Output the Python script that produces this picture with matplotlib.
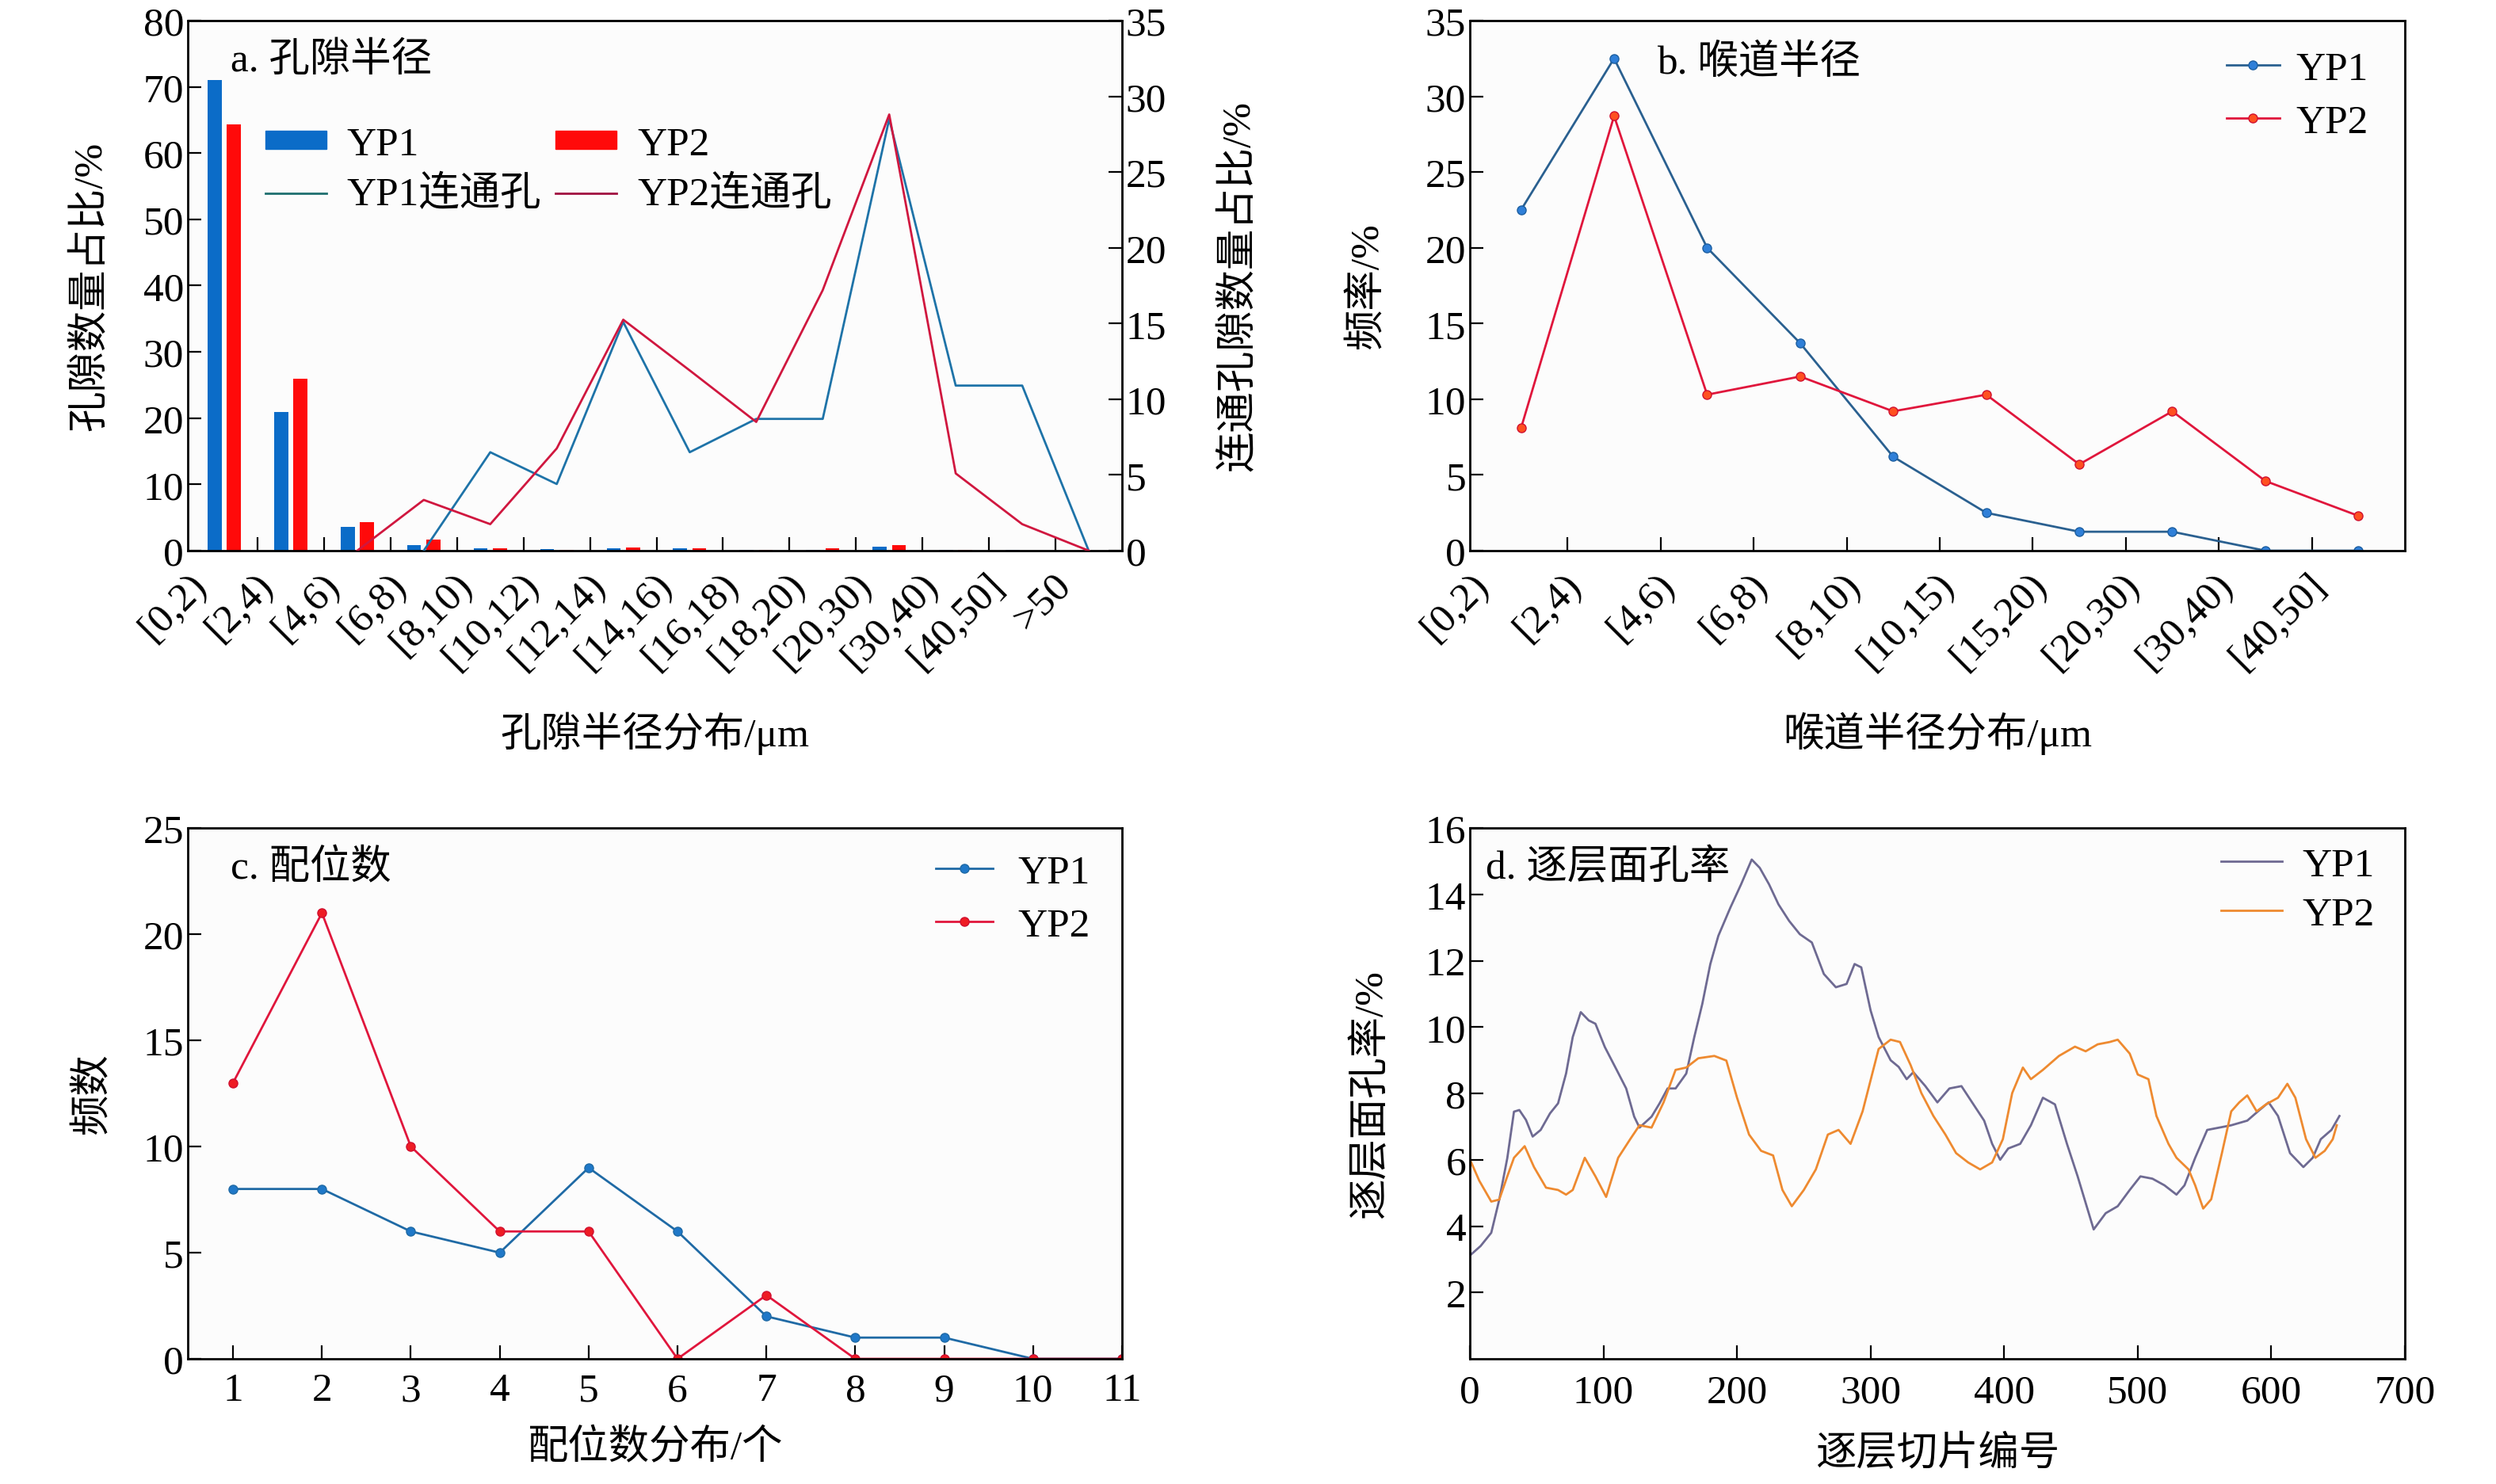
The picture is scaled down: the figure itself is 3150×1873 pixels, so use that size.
import numpy as np
import matplotlib
matplotlib.use("Agg")
import matplotlib.pyplot as plt
from matplotlib.patches import Patch
from matplotlib.lines import Line2D

plt.rcParams['font.family'] = ['Liberation Serif', 'Noto Sans CJK SC', 'DejaVu Sans']
plt.rcParams['axes.unicode_minus'] = False

# ---- panel a: pore radius ----
pore_cats = ['[0,2)', '[2,4)', '[4,6)', '[6,8)', '[8,10)', '[10,12)', '[12,14)',
             '[14,16)', '[16,18)', '[18,20)', '[20,30)', '[30,40)', '[40,50]', '>50']
pore_yp1 = [71.0, 20.9, 3.6, 0.8, 0.3, 0.2, 0.3, 0.3, 0.1, 0.1, 0.6, 0.1, 0.1, 0.0]
pore_yp2 = [64.3, 25.9, 4.3, 1.7, 0.3, 0.1, 0.5, 0.3, 0.1, 0.3, 0.8, 0.1, 0.05, 0.0]
conn_yp1_idx = [3, 4, 5, 6, 7, 8, 9, 10, 11, 12, 13]
conn_yp1 = [0.0, 6.5, 4.4, 15.1, 6.5, 8.7, 8.7, 28.5, 10.9, 10.9, 0.0]
conn_yp2_idx = [2, 3, 4, 5, 6, 7, 8, 9, 10, 11, 12, 13]
conn_yp2 = [0.0, 3.35, 1.75, 6.75, 15.25, 11.9, 8.5, 17.2, 28.8, 5.1, 1.75, 0.0]

# ---- panel b: throat radius ----
throat_cats = ['[0,2)', '[2,4)', '[4,6)', '[6,8)', '[8,10)', '[10,15)', '[15,20)',
               '[20,30)', '[30,40)', '[40,50]']
throat_yp1 = [22.5, 32.5, 20.0, 13.7, 6.2, 2.5, 1.25, 1.25, 0.0, 0.0]
throat_yp2 = [8.1, 28.7, 10.3, 11.5, 9.2, 10.3, 5.7, 9.2, 4.6, 2.3]

# ---- panel c: coordination number ----
coord_n = [1, 2, 3, 4, 5, 6, 7, 8, 9, 10, 11]
coord_yp1 = [8, 8, 6, 5, 9, 6, 2, 1, 1, 0, 0]
coord_yp2 = [13, 21, 10, 6, 6, 0, 3, 0, 0, 0, 0]

# ---- panel d: slice porosity ----
slice_yp1_x = [1, 8, 16, 22, 28, 33, 37, 42, 47, 53, 60, 66, 72, 77, 83, 89, 94, 101,
               110, 117, 123, 127, 136, 142, 148, 154, 162, 168, 174, 180, 186, 195,
               203, 211, 217, 224, 231, 239, 247, 256, 265, 274, 282, 288, 293, 300,
               306, 315, 321, 327, 332, 341, 350, 359, 368, 376, 385, 391, 397, 403,
               412, 420, 429, 438, 447, 455, 467, 476, 485, 494, 502, 511, 520, 529,
               535, 543, 552, 561, 570, 582, 590, 598, 605, 614, 624, 631, 637, 645, 651]
slice_yp1 = [3.15, 3.4, 3.8, 4.8, 6.05, 7.45, 7.5, 7.2, 6.7, 6.9, 7.4, 7.7, 8.6, 9.7,
             10.45, 10.2, 10.1, 9.4, 8.7, 8.15, 7.3, 6.97, 7.3, 7.7, 8.15, 8.15, 8.6,
             9.7, 10.7, 11.9, 12.75, 13.6, 14.3, 15.05, 14.8, 14.3, 13.7, 13.2, 12.8,
             12.55, 11.6, 11.2, 11.3, 11.9, 11.8, 10.5, 9.7, 9.0, 8.8, 8.43, 8.64,
             8.22, 7.73, 8.15, 8.22, 7.73, 7.18, 6.48, 6.0, 6.34, 6.48, 7.04, 7.87,
             7.67, 6.48, 5.5, 3.9, 4.39, 4.6, 5.09, 5.5, 5.43, 5.23, 4.95, 5.23, 6.06,
             6.9, 6.97, 7.04, 7.18, 7.46, 7.73, 7.32, 6.2, 5.78, 6.06, 6.62, 6.9, 7.32]
slice_yp2_x = [1, 7, 16, 22, 28, 33, 41, 48, 57, 66, 72, 77, 86, 94, 102, 111, 120,
               127, 136, 145, 154, 162, 171, 183, 192, 200, 209, 218, 227, 234, 241,
               250, 259, 268, 276, 285, 294, 306, 315, 322, 330, 338, 347, 356, 364,
               373, 382, 391, 399, 406, 414, 420, 429, 441, 453, 461, 470, 479, 485,
               494, 500, 508, 514, 523, 529, 538, 543, 549, 555, 563, 570, 576, 582,
               589, 596, 605, 612, 618, 626, 633, 640, 646, 649]
slice_yp2 = [5.92, 5.37, 4.74, 4.8, 5.5, 6.06, 6.41, 5.78, 5.16, 5.09, 4.95, 5.09,
             6.06, 5.5, 4.88, 6.06, 6.62, 7.04, 6.97, 7.73, 8.71, 8.78, 9.06, 9.13,
             8.99, 7.87, 6.76, 6.27, 6.13, 5.09, 4.6, 5.09, 5.71, 6.76, 6.9, 6.48,
             7.46, 9.34, 9.62, 9.55, 8.85, 8.01, 7.32, 6.76, 6.2, 5.92, 5.71, 5.92,
             6.62, 8.01, 8.78, 8.43, 8.71, 9.13, 9.41, 9.27, 9.48, 9.55, 9.62, 9.2,
             8.57, 8.43, 7.32, 6.48, 6.06, 5.71, 5.23, 4.53, 4.81, 6.2, 7.46, 7.73,
             7.94, 7.46, 7.67, 7.87, 8.29, 7.87, 6.62, 6.06, 6.27, 6.62, 7.04]

FS = 37
TICK = dict(direction='in', length=12, width=1.6, labelsize=FS)
LAB_OFF = 0.55  # rotated category labels sit a little left of the bar group

fig = plt.figure(figsize=(31.5, 18.74), dpi=100)
ax_a = fig.add_axes([0.0752, 0.6286, 0.3743, 0.357])
ax_b = fig.add_axes([0.5889, 0.6286, 0.3746, 0.357])
ax_c = fig.add_axes([0.0752, 0.0843, 0.3743, 0.3575])
ax_d = fig.add_axes([0.5889, 0.0843, 0.3746, 0.3575])

for ax in (ax_a, ax_b, ax_c, ax_d):
    ax.set_facecolor('#fcfcfc')
    for s in ax.spines.values():
        s.set_linewidth(2.0)
    ax.tick_params(**TICK)

# panel a
xa = np.arange(len(pore_cats))
bw = 0.21
ax_a.bar(xa - 0.145, pore_yp1, bw, color='#0b6cc8')
ax_a.bar(xa + 0.145, pore_yp2, bw, color='#ff0a0a')
ax_a.set_xlim(-0.5, len(pore_cats) - 0.5)
ax_a.set_ylim(0, 80)
ax_a.set_yticks(np.arange(0, 81, 10))
ax_a.set_xticks(xa - LAB_OFF)
ax_a.set_xticklabels(pore_cats, rotation=45, ha='right', rotation_mode='anchor')
ax_a.tick_params(axis='x', which='major', length=0, pad=14)
ax_a.set_xticks(np.arange(0.5, len(pore_cats) - 0.5, 1), minor=True)
ax_a.tick_params(axis='x', which='minor', direction='in', length=12, width=1.6)
ax_a.set_ylabel('孔隙数量占比/%', fontsize=FS, labelpad=30)
ax_a.set_xlabel('孔隙半径分布/μm', fontsize=FS, labelpad=32)
ax_a2 = ax_a.twinx()
ax_a2.plot(conn_yp1_idx, conn_yp1, color='#1e73a8', lw=2.0)
ax_a2.plot(conn_yp2_idx, conn_yp2, color='#d0173f', lw=2.0)
ax_a2.set_ylim(0, 35)
ax_a2.set_yticks(np.arange(0, 36, 5))
ax_a2.tick_params(**TICK)
ax_a2.set_ylabel('连通孔隙数量占比/%', fontsize=FS, labelpad=48)
ax_a.text(0.046, 0.925, 'a. 孔隙半径', transform=ax_a.transAxes, fontsize=FS, va='center')
handles_a = [Patch(color='#0b6cc8'), Line2D([], [], color='#1e6f6f', lw=2.0),
             Patch(color='#ff0a0a'), Line2D([], [], color='#a01040', lw=2.0)]
labels_a = ['YP1', 'YP1连通孔', 'YP2', 'YP2连通孔']
ax_a2.legend(handles_a, labels_a, ncol=2, frameon=False, fontsize=FS,
             loc='upper left', bbox_to_anchor=(0.044, 0.87), handlelength=1.5,
             handleheight=0.3, columnspacing=0.35, handletextpad=0.5, labelspacing=0.3)

# panel b
xb = np.arange(len(throat_cats))
ax_b.plot(xb, throat_yp1, color='#2a6090', lw=2.0, marker='o', ms=8,
          mfc='#2f7fd8', mec='#1d5fa0', label='YP1')
ax_b.plot(xb, throat_yp2, color='#e0163c', lw=2.0, marker='o', ms=8,
          mfc='#ff5020', mec='#d01030', label='YP2')
ax_b.set_xlim(-0.5, len(throat_cats) - 0.5)
ax_b.set_ylim(0, 35)
ax_b.set_yticks(np.arange(0, 36, 5))
ax_b.set_xticks(xb - LAB_OFF)
ax_b.set_xticklabels(throat_cats, rotation=45, ha='right', rotation_mode='anchor')
ax_b.tick_params(axis='x', which='major', length=0, pad=14)
ax_b.set_xticks(np.arange(0.5, len(throat_cats) - 0.5, 1), minor=True)
ax_b.tick_params(axis='x', which='minor', direction='in', length=12, width=1.6)
ax_b.set_ylabel('频率/%', fontsize=FS, labelpad=36)
ax_b.set_xlabel('喉道半径分布/μm', fontsize=FS, labelpad=32)
ax_b.text(0.2, 0.92, 'b. 喉道半径', transform=ax_b.transAxes, fontsize=FS, va='center')
ax_b.legend(frameon=False, fontsize=FS, loc='upper right', bbox_to_anchor=(1.0, 1.013),
            handlelength=1.3, handletextpad=0.4, labelspacing=0.4)

# panel c
ax_c.plot(coord_n, coord_yp1, color='#1f6aa5', lw=2.0, marker='o', ms=8,
          mfc='#1f78c8', mec='#1f6aa5', label='YP1')
ax_c.plot(coord_n, coord_yp2, color='#e0163c', lw=2.0, marker='o', ms=8,
          mfc='#ee1c24', mec='#d01030', label='YP2')
ax_c.set_xlim(0.49, 11)
ax_c.set_ylim(0, 25)
ax_c.set_xticks(coord_n)
ax_c.set_yticks(np.arange(0, 26, 5))
ax_c.tick_params(axis='x', pad=12)
ax_c.set_ylabel('频数', fontsize=FS, labelpad=28)
ax_c.set_xlabel('配位数分布/个', fontsize=FS, labelpad=18)
ax_c.text(0.046, 0.925, 'c. 配位数', transform=ax_c.transAxes, fontsize=FS, va='center')
ax_c.legend(frameon=False, fontsize=FS, loc='upper right', bbox_to_anchor=(1.005, 1.02),
            handlelength=1.4, handletextpad=0.6, labelspacing=0.4)

# panel d
ax_d.plot(slice_yp1_x, slice_yp1, color='#6e6a92', lw=2.0, label='YP1')
ax_d.plot(slice_yp2_x, slice_yp2, color='#ee8a30', lw=2.0, label='YP2')
ax_d.set_xlim(0, 700)
ax_d.set_ylim(0, 16)
ax_d.set_xticks(np.arange(0, 701, 100))
ax_d.set_yticks(np.arange(2, 17, 2))
ax_d.tick_params(axis='x', pad=14)
ax_d.set_ylabel('逐层面孔率/%', fontsize=FS, labelpad=32)
ax_d.set_xlabel('逐层切片编号', fontsize=FS, labelpad=22)
ax_d.text(0.017, 0.925, 'd. 逐层面孔率', transform=ax_d.transAxes, fontsize=FS, va='center')
ax_d.legend(frameon=False, fontsize=FS, loc='upper right', bbox_to_anchor=(1.007, 1.034),
            handlelength=1.5, handletextpad=0.5, labelspacing=0.3)

fig.savefig('out.png', dpi=100, facecolor='white')
